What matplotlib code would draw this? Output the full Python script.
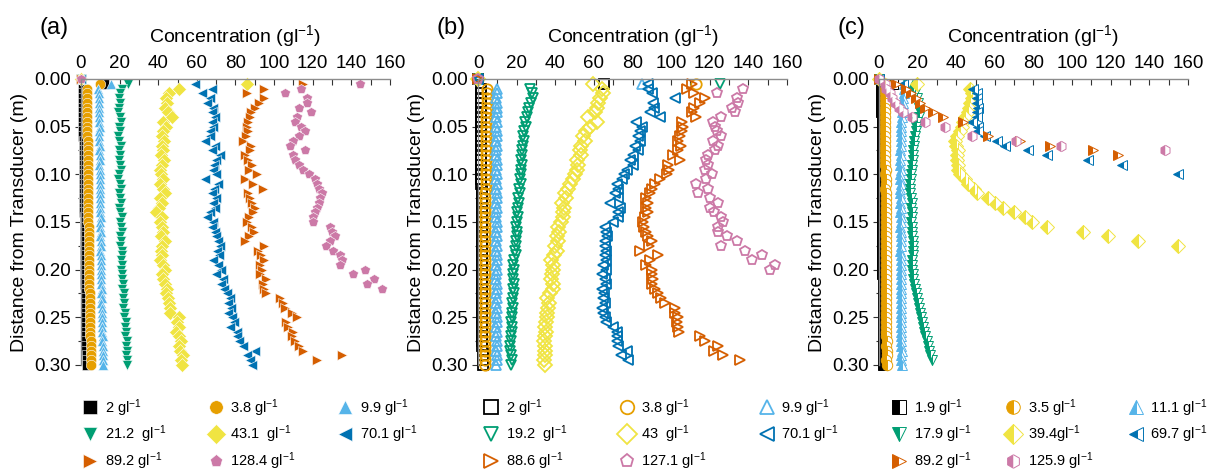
import numpy as np
import matplotlib.pyplot as plt
from matplotlib.ticker import MultipleLocator, FormatStrFormatter

plt.rcParams['font.family'] = ['Liberation Sans', 'DejaVu Sans']
plt.rcParams['mathtext.fontset'] = 'custom'
plt.rcParams['mathtext.rm'] = 'Liberation Sans'
plt.rcParams['mathtext.it'] = 'Liberation Sans:italic'

nan = np.nan

# measurement bins below the transducer (m), 5 mm apart
depth = np.round(np.arange(0, 61) * 0.005, 3)

# ---- panel (a) concentration profiles (g/l) ----
a_c2 = [0, 12, 1.0, 1.0, 1.1, 1.1, 1.1, 1.2, 1.2, 1.2, 1.3, 1.3, 1.3, 1.4, 1.4, 1.4, 1.5, 1.5, 1.5, 1.5,
        1.6, 1.6, 1.6, 1.7, 1.7, 1.7, 1.8, 1.8, 1.8, 1.9, 1.9, 1.9, 2.0, 2.0, 2.0, 2.1, 2.1, 2.1, 2.2, 2.2,
        2.2, 2.3, 2.3, 2.3, 2.4, 2.4, 2.4, 2.5, 2.5, 2.5, 2.6, 2.6, 2.6, 2.7, 2.7, 2.7, 2.8, 2.8, 2.9, 2.9, 3.0]
a_c38 = [0, 10, 3.0, 3.0, 3.1, 3.1, 3.1, 3.2, 3.2, 3.2, 3.3, 3.3, 3.3, 3.4, 3.4, 3.4, 3.5, 3.5, 3.5, 3.6,
         3.6, 3.6, 3.7, 3.7, 3.7, 3.8, 3.8, 3.8, 3.9, 3.9, 3.9, 4.0, 4.0, 4.0, 4.1, 4.1, 4.1, 4.2, 4.2, 4.2,
         4.3, 4.3, 4.4, 4.4, 4.4, 4.5, 4.5, 4.6, 4.6, 4.7, 4.7, 4.8, 4.8, 4.9, 4.9, 5.0, 5.0, 5.1, 5.2, 5.3, 5.4]
a_c99 = [0, 15.5, 9.0, 9.2, 9.4, 9.1, 9.3, 9.5, 9.2, 9.4, 9.6, 9.3, 9.5, 9.4, 9.7, 9.5, 9.6, 9.8, 9.5, 9.7,
         9.9, 9.6, 9.8, 10.0, 9.7, 9.9, 10.1, 9.8, 10.0, 10.2, 9.9, 10.1, 10.3, 10.0, 10.2, 10.4, 10.1, 10.3,
         10.5, 10.2, 10.4, 10.6, 10.3, 10.5, 10.7, 10.5, 10.8, 10.6, 10.9, 10.7, 11.0, 10.8, 11.1, 10.9, 11.2,
         11.0, 11.3, 11.2, 11.5, 11.3, 11.6]
a_c212 = [0, 24.5, 21.0, 20.0, 19.5, 20.3, 19.8, 19.2, 20.0, 20.5, 19.6, 20.2, 19.4, 19.9, 20.6, 19.7, 20.3,
          19.5, 20.0, 20.7, 19.8, 19.4, 20.2, 20.6, 19.7, 20.1, 20.8, 19.9, 20.4, 21.0, 20.2, 20.6, 21.2, 20.4,
          20.9, 20.3, 21.0, 21.5, 20.7, 21.2, 20.8, 21.4, 21.0, 21.8, 21.4, 22.1, 21.7, 22.5, 22.0, 22.8, 22.4,
          23.1, 22.7, 23.4, 23.0, 23.6, 23.2, 23.8, 23.4, 24.0, 23.6]
a_c431 = [0, 86, 51, 45.5, 44, 44.5, 43.5, 45, 47, 42.6, 44, 42.5, 41.8, 43, 42, 42.6, 41.5, 43, 42, 41, 41.5,
          42.5, 41, 42.5, 43.5, 41, 42, 40.5, 39, 41.8, 41, 42, 42.6, 41.5, 43.5, 42, 41.5, 42, 41, 42.5, 43.5,
          42, 42.6, 43.5, 44.4, 44, 45.2, 45.5, 46, 46, 51, 49.6, 50.5, 49.4, 51, 52, 50.5, 51.5, 53, 52, 52.5]
a_c701 = [0, 59, 67.7, 62.5, 66.8, 65.5, 68.5, 67.7, 69.4, 68, 68.5, 67, 66.8, 64, 69.4, 68, 72, 70, 69, 68.5,
          70, 64, 71, 69, 67.7, 70, 68.5, 69.5, 67, 65.5, 68.5, 68, 69.5, 70, 71, 72, 70.5, 71.5, 68.5, 71, 72.5,
          70, 73.7, 72.5, 74, 75.4, 77, 76, 77.5, 76, 78, 79, 77, 80.6, 81, 82, 84, 90, 86, 87.5, 88.5]
a_c892 = [0, 115, 95, 85.8, 95, 92, 90, 88, 87.5, 86.5, 85.8, 86.7, 85.5, 84, 88, 87.5, 84.9, 86.5, 88.4, 87,
          91, 85, 89, 94.4, 86.7, 87.5, 88.4, 90, 89, 87, 85.8, 88.4, 89.5, 87, 85, 95, 91.6, 93, 95, 92.5, 93.5,
          92.7, 96, 94, 95, 96, 103, 104.5, 105.6, 109, 111.6, 106, 107, 110, 109, 110.8, 113, 115, 135, 122]
a_c1284 = [0, 144.5, 114, 105.6, 117, 117, 113, 119, 112, 111, 114, 116, 113, 110, 108, 116, 110, 111, 113, 115,
           118, 121, 122, 123, 125, 124, 123, 122, 121, 120, 120, 128.9, 130, 131.5, 129, 127, 130.5, 134, 135,
           134, 147, 141, 151.6, 148, 155.6]

# ---- panel (b) ----
b_c2 = [0, 65, 1.4, 1.4, 1.5, 1.5, 1.5, 1.5, 1.6, 1.6, 1.6, 1.6, 1.7, 1.7, 1.7, 1.7, 1.7, 1.8, 1.8, 1.8, 1.8,
        1.8, 1.8, 1.9, 1.9, 1.9, 1.9, 1.9, 1.9, 2.0, 2.0, 2.0, 2.0, 2.0, 2.0, 2.0, 2.1, 2.1, 2.1, 2.1, 2.1, 2.1,
        2.1, 2.2, 2.2, 2.2, 2.2, 2.2, 2.2, 2.2, 2.3, 2.3, 2.3, 2.3, 2.3, 2.3, 2.3, 2.4, 2.4, 2.4, 2.4]
b_c38 = [0, 113, 4.8, 4.6, 4.5, 4.4, 4.4, 4.3, 4.3, 4.2, 4.2, 4.2, 4.1, 4.1, 4.1, 4.0, 4.0, 4.0, 4.0, 3.9, 3.9,
         3.9, 3.9, 3.9, 3.8, 3.8, 3.8, 3.8, 3.8, 3.8, 3.7, 3.7, 3.7, 3.7, 3.7, 3.7, 3.7, 3.6, 3.6, 3.6, 3.6, 3.6,
         3.6, 3.6, 3.6, 3.5, 3.5, 3.5, 3.5, 3.5, 3.5, 3.5, 3.5, 3.5, 3.5, 3.5, 3.5, 3.5, 3.5, 3.5, 3.5]
b_c99 = [0, 85, 9.6, 9.8, 9.5, 9.7, 9.9, 9.6, 9.4, 9.7, 9.5, 9.8, 9.6, 9.4, 9.7, 9.5, 9.3, 9.6, 9.8, 9.5, 9.7,
         9.4, 9.6, 9.5, 9.8, 9.6, 9.4, 9.7, 9.5, 9.3, 9.6, 9.8, 9.5, 9.7, 9.4, 9.6, 9.5, 9.8, 9.6, 9.4, 9.7, 9.5,
         9.3, 9.6, 9.8, 9.5, 9.7, 9.4, 9.6, 9.5, 9.8, 9.6, 9.4, 9.7, 9.5, 9.6, 9.8, 9.5, 9.7, 9.6, 9.5]
b_c192 = [0, 125.3, 27, 27.8, 28.6, 27.5, 26.5, 26, 25.5, 24.3, 24.8, 24, 23.5, 24, 23.2, 22.6, 23, 22.4, 22.6,
          22, 22.4, 21.8, 22, 21.4, 21.6, 20.9, 21.2, 20.5, 20, 20.9, 20.3, 19.8, 20, 20.4, 19.6, 19.8, 19.2, 19.6,
          18.8, 18.3, 18.8, 18.2, 18.3, 18.8, 18.1, 18.4, 18.3, 17.8, 18.0, 17.4, 17.7, 17.2, 17.6, 17.4, 16.9,
          17.3, 16.8, 16.6, 17.2, 17.4, 17.0]
b_c43 = [0, 59.6, 64, 64.5, 63, 62.3, 61.5, 60.6, 57, 61.4, 58, 56, 54.5, 55.4, 53.5, 52.8, 53.5, 51, 52, 51,
         50, 49, 47.5, 46.8, 45, 45.5, 43.3, 44.5, 44, 44, 43, 41.6, 42, 40.7, 41.2, 39.9, 40.7, 39.5, 38, 39,
         38.9, 38.2, 38, 39, 38.9, 37.5, 35.5, 36.5, 36.4, 35.8, 35.5, 35.2, 34.7, 35.2, 34.7, 34.2, 34.7, 34.5,
         34.7, 34.2, 34.7]
b_c701 = [0, 88, 88.2, 89.9, 102, 90.8, 91, 89, 94.2, 82, 85, 83.9, 83, 84, 81.3, 83, 80.4, 78.7, 80.4, 77,
          75.5, 74.4, 71.8, 72.7, 71, 72.7, 68.3, 73.5, 72.7, 72.7, 70, 65.8, 66.5, 66.7, 65.5, 65.8, 66.5, 65.8,
          66, 64.9, 66.5, 64, 65.8, 66.5, 64, 65, 64.9, 65.5, 64, 64.5, 65.8, 66, 70, 72, 71.8, 71.8, 72.5, 77,
          74, 77.8]
b_c886 = [0, 110.6, 108, 112, 117.5, 115, 112, 110.6, 113, 105.5, 106, 105.5, 104.6, 103.5, 105, 103.5, 101,
          104.6, 98.6, 99, 97.7, 94.2, 91.6, 89.9, 89, 87.2, 88, 87.2, 88, 86.3, 85.5, 86, 87.2, 88, 89.9, 88.5,
          83.9, 93.3, 89, 87.2, 89.9, 89.9, 90.5, 89.9, 91.6, 93.3, 94.5, 96.8, 101.9, 101.9, 103.6, 103, 103.6,
          104, 115, 117.5, 124.4, 122, 127, 135.6]
b_c1271 = [0, nan, 137, 123.6, 134, 134.8, 131.3, 133, 126, 121.9, 122.5, 123.6, 126, 121.9, 124, 122.7, 119,
           118, 119, 117.5, 121, 118, 113, 119, 114, 120, 124.4, 120, 122, 126, 127, 124.4, 124.4, 129, 134, 126,
           138.2, 147, 141.7, 153.8, 151]

# ---- panel (c) ----
c_c19 = [0, 7.4, 1.2, 1.2, 1.3, 1.3, 1.3, 1.3, 1.4, 1.4, 1.4, 1.4, 1.4, 1.5, 1.5, 1.5, 1.5, 1.5, 1.5, 1.6, 1.6,
         1.6, 1.6, 1.6, 1.6, 1.6, 1.7, 1.7, 1.7, 1.7, 1.7, 1.7, 1.7, 1.7, 1.8, 1.8, 1.8, 1.8, 1.8, 1.8, 1.8, 1.8,
         1.9, 1.9, 1.9, 1.9, 1.9, 1.9, 1.9, 1.9, 2.0, 2.0, 2.0, 2.0, 2.0, 2.0, 2.0, 2.0, 2.1, 2.1, 2.1]
c_c35 = [0, 3.5, 3.0, 3.1, 3.1, 3.0, 3.1, 3.2, 3.1, 3.2, 3.2, 3.1, 3.2, 3.3, 3.2, 3.3, 3.3, 3.2, 3.3, 3.4, 3.3,
         3.4, 3.4, 3.3, 3.4, 3.5, 3.4, 3.5, 3.5, 3.4, 3.5, 3.6, 3.5, 3.6, 3.6, 3.5, 3.6, 3.7, 3.6, 3.7, 3.7, 3.6,
         3.7, 3.8, 3.7, 3.8, 3.8, 3.7, 3.8, 3.9, 3.8, 3.9, 3.9, 3.8, 3.9, 4.0, 3.9, 4.0, 4.0, 3.9, 4.0]
c_c111 = [0, 13, 13.2, 13.0, 12.7, 12.5, 12.3, 12.0, 11.8, 11.6, 11.5, 11.4, 11.3, 11.2, 11.3, 11.1, 11.2, 11.0,
          11.1, 11.2, 11.0, 11.1, 11.2, 11.0, 11.1, 11.3, 11.1, 11.2, 11.0, 11.2, 11.3, 11.1, 11.2, 11.4, 11.2,
          11.3, 11.1, 11.3, 11.4, 11.2, 11.3, 11.5, 11.3, 11.4, 11.2, 11.4, 11.5, 11.3, 11.5, 11.6, 11.4, 11.5,
          11.3, 11.5, 11.6, 11.4, 11.6, 11.7, 11.5, 11.6, 11.7]
c_c179 = [0, 15, 17.8, 18.6, 19.5, 20.4, 20.8, 21.2, 20.6, 19.5, 19.4, 19.0, 18.6, 18.4, 18.2, 17.8, 17.8, 17.4,
          17.2, 16.9, 16.8, 16.5, 16.2, 16.0, 16.3, 16.6, 16.9, 16.7, 16.9, 16.9, 16.8, 16.9, 17.0, 17.2, 17.4,
          17.6, 17.8, 17.5, 17.2, 17.0, 17.3, 17.6, 17.8, 18.2, 18.6, 19.0, 19.5, 20.0, 20.6, 21.2, 21.8, 22.4,
          23.0, 23.5, 24.0, 24.7, 25.2, 25.8, 26.4, 27.3]
c_c394 = [0, 19.5, 47, 48, 48, 47, 46.5, 46, 44.5, 43.7, 43, 42, 40.2, 39.4, 40, 41, 40.2, 40.5, 41, 41, 42,
          44.5, 46, 49, 50.6, 56.6, 60, 64.4, 70, 75.6, 79, 86.8, 105.8, 118.8, 134.3, 155]
c_c697 = [0, 12.6, 48.8, 50.6, 50.6, 51, 51.4, 50.6, 51, 48, 51.4, 51.5, 54.9, 61, 65.2, 77.3, 87, 108.4,
          125.6, nan, 155]
c_c892 = [0, 9, 14, 16.5, 19.4, 21.5, 23.7, 28, 33, 43.6, nan, nan, 56.6, 73, 88.6, 111, 124]
c_c1259 = [0, 3.1, 3.8, 5.7, 7, 8.3, 10.5, 12.6, 17, 24, 34, nan, 48, 71, 94, 148]

labels_a = ['2 gl$^{-1}$', '3.8 gl$^{-1}$', '9.9 gl$^{-1}$', '21.2  gl$^{-1}$',
            '43.1  gl$^{-1}$', '70.1 gl$^{-1}$', '89.2 gl$^{-1}$', '128.4 gl$^{-1}$']
labels_b = ['2 gl$^{-1}$', '3.8 gl$^{-1}$', '9.9 gl$^{-1}$', '19.2  gl$^{-1}$',
            '43  gl$^{-1}$', '70.1 gl$^{-1}$', '88.6 gl$^{-1}$', '127.1 gl$^{-1}$']
labels_c = ['1.9 gl$^{-1}$', '3.5 gl$^{-1}$', '11.1 gl$^{-1}$', '17.9 gl$^{-1}$',
            '39.4gl$^{-1}$', '69.7 gl$^{-1}$', '89.2 gl$^{-1}$', '125.9 gl$^{-1}$']

colors = ['#000000', '#E69F00', '#56B4E9', '#009E73', '#F0E442', '#0072B2', '#D55E00', '#CC79A7']

fig = plt.figure(figsize=(12.12, 4.74), dpi=100)

# tag, axes left, series, labels, markers, style, legend x (px), legend column spacing
panels = [
    ('(a)', 0.0668, [a_c2, a_c38, a_c99, a_c212, a_c431, a_c701, a_c892, a_c1284], labels_a,
     ['s', 'o', '^', 'v', 'D', '<', '>', 'p'], 'filled', 83, 2.9),
    ('(b)', 0.3944, [b_c2, b_c38, b_c99, b_c192, b_c43, b_c701, b_c886, b_c1271], labels_b,
     ['s', 'o', '^', 'v', 'D', '<', '>', 'p'], 'hollow', 484, 3.6),
    ('(c)', 0.7252, [c_c19, c_c35, c_c111, c_c179, c_c394, c_c697, c_c892, c_c1259], labels_c,
     ['s', 'o', '^', 'v', 'D', '<', '>', 'h'], 'half', 892, 2.4),
]

for tag, left, series, labels, markers, style, legx, colsp in panels:
    ax = fig.add_axes([left, 0.230, 0.255, 0.6034])
    handles = []
    for vals, lab, m, col in zip(series, labels, markers, colors):
        kw = dict(ls='none', marker=m, ms=7.5, clip_on=False, label=lab)
        if style == 'filled':
            kw.update(color=col, mec='white', mew=0.4)
        elif style == 'hollow':
            kw.update(mfc='none', mec=col, mew=1.3)
        else:
            kw.update(fillstyle='left', mfc=col, mfcalt='white', mec=col, mew=0.7)
        h, = ax.plot(vals, depth[:len(vals)], **kw)
        handles.append(h)

    ax.set_xlim(0, 160)
    ax.set_ylim(0.30, 0.0)
    ax.xaxis.tick_top()
    ax.xaxis.set_label_position('top')
    for s in ['right', 'bottom']:
        ax.spines[s].set_visible(False)
    for s in ['top', 'left']:
        ax.spines[s].set_color('#8c8c8c')
        ax.spines[s].set_linewidth(1.0)
    ax.xaxis.set_major_locator(MultipleLocator(20))
    ax.xaxis.set_minor_locator(MultipleLocator(10))
    ax.yaxis.set_major_locator(MultipleLocator(0.05))
    ax.yaxis.set_minor_locator(MultipleLocator(0.025))
    ax.yaxis.set_major_formatter(FormatStrFormatter('%.2f'))
    ax.tick_params(axis='x', which='both', direction='in', length=4, width=0.8,
                   color='#333333', labelsize=13.5, pad=5)
    ax.tick_params(axis='y', which='major', direction='out', length=4, width=0.8,
                   color='#333333', labelsize=13.5, pad=3)
    ax.tick_params(axis='y', which='minor', direction='out', length=2, width=0.8, color='#333333')
    ax.set_xlabel('Concentration (gl$^{-1}$)', fontsize=14, labelpad=9)
    ax.set_ylabel('Distance from Transducer (m)', fontsize=14, labelpad=5)

    fig.text(left - 0.034, 1 - 28 / 474, tag, fontsize=17, va='center', ha='left')

    # row-major ordering for a 3-column legend
    order = [0, 3, 6, 1, 4, 7, 2, 5]
    fig.legend([handles[i] for i in order], [labels[i] for i in order],
               loc='upper left', bbox_to_anchor=(legx / 1212, 1 - 397 / 474),
               bbox_transform=fig.transFigure, ncol=3, frameon=False, fontsize=10.5,
               markerscale=1.3, handlelength=1.0, handletextpad=0.5,
               columnspacing=colsp, labelspacing=0.35, borderpad=0, borderaxespad=0)

fig.savefig('out.png', dpi=100)
